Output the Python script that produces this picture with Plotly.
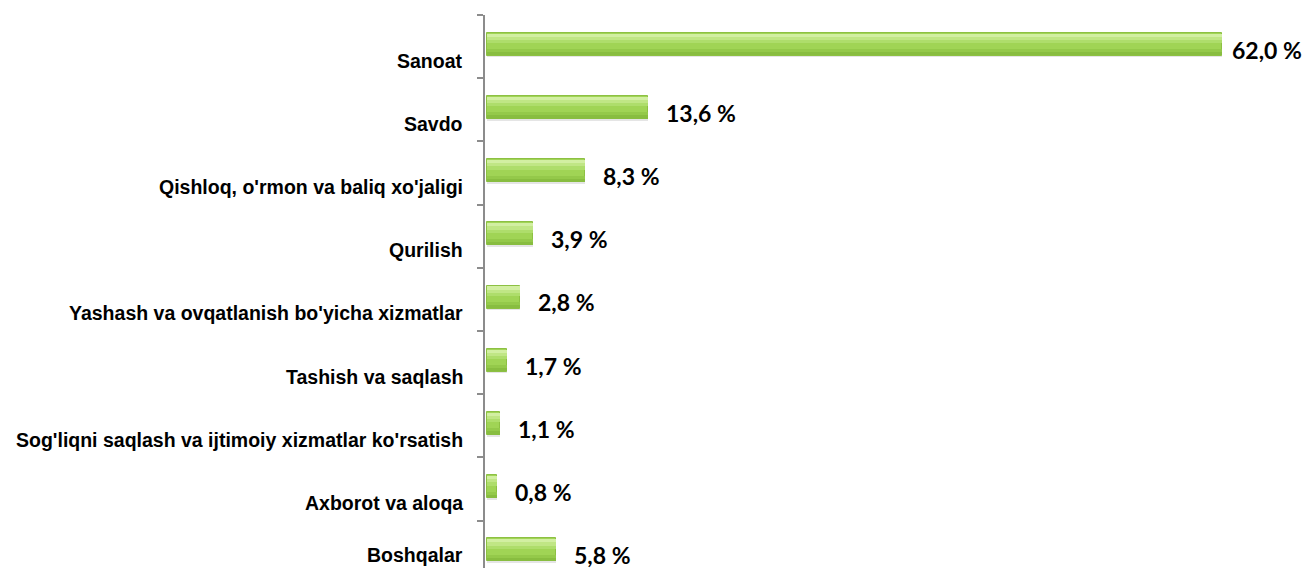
import plotly.graph_objects as go

categories = [
    "Sanoat",
    "Savdo",
    "Qishloq, o'rmon va baliq xo'jaligi",
    "Qurilish",
    "Yashash va ovqatlanish bo'yicha xizmatlar",
    "Tashish va saqlash",
    "Sog'liqni saqlash va ijtimoiy xizmatlar ko'rsatish",
    "Axborot va aloqa",
    "Boshqalar",
]
values = [62.0, 13.6, 8.3, 3.9, 2.8, 1.7, 1.1, 0.8, 5.8]
value_labels = ["62,0 %", "13,6 %", "8,3 %", "3,9 %", "2,8 %", "1,7 %", "1,1 %", "0,8 %", "5,8 %"]

pos = list(range(len(categories)))

fig = go.Figure()
# soft shadow
fig.add_trace(go.Bar(
    x=values, y=pos, orientation="h", width=0.36, offset=-0.19,
    marker=dict(color="rgba(0,0,0,0.10)", line=dict(width=0)), hoverinfo="skip",
))
# main bar body
fig.add_trace(go.Bar(
    x=values, y=pos, orientation="h", width=0.365, offset=-0.22,
    marker=dict(color="#A0D455", line=dict(color="#8DC043", width=1)), hoverinfo="skip",
))
# gradient layers
for off, w, col in [(-0.205, 0.05, "#D2EFA2"), (-0.155, 0.05, "#C0E685"),
                    (-0.105, 0.05, "#AEDD6B"), (0.04, 0.05, "#94C94A"),
                    (0.09, 0.05, "#88BD40")]:
    fig.add_trace(go.Bar(
        x=values, y=pos, orientation="h", width=w, offset=off,
        marker=dict(color=col, line=dict(width=0)), hoverinfo="skip",
    ))

for p, v, t in zip(pos, values, value_labels):
    fig.add_annotation(
        x=v, y=p, text=t, showarrow=False, xanchor="left", yanchor="middle",
        xshift=8 if v > 50 else 16, yshift=-3,
        font=dict(family="Lato", size=23, color="#000000", weight="bold"),
    )

last = len(categories) - 1
for p, c in zip(pos, categories):
    fig.add_annotation(
        x=0, xref="paper", y=p + 0.22, yref="y", text=c, showarrow=False,
        xanchor="right", yanchor="middle", xshift=-20,
        yshift=11 if p == last else 0,
        font=dict(family="Liberation Sans", size=19.5, color="#000000", weight="bold"),
    )

fig.update_layout(
    width=1296, height=560,
    margin=dict(l=477, r=0, t=7, b=0),
    plot_bgcolor="white", paper_bgcolor="white",
    showlegend=False, barmode="overlay",
    xaxis=dict(range=[-0.17, 68.9], showgrid=False, zeroline=False,
               showticklabels=False, showline=False, ticks=""),
    yaxis=dict(
        range=[8.25, -0.5], showgrid=False, zeroline=False,
        tickmode="array", tickvals=[p - 0.5 for p in pos] + [8.5],
        showticklabels=False,
        ticks="outside", ticklen=6, tickcolor="#8C8C8C", tickwidth=1.5,
        showline=True, linecolor="#8C8C8C", linewidth=1.5,
    ),
    bargap=0,
)

fig.write_html("out.html")
